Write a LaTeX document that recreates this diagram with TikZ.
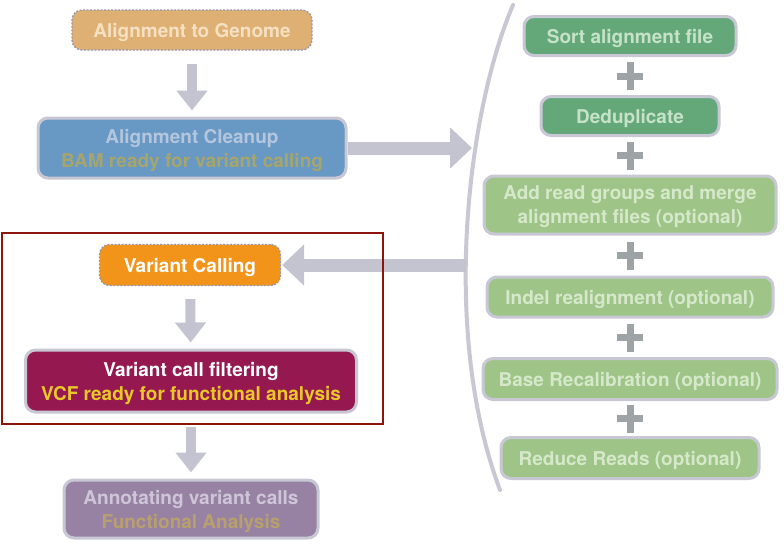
\documentclass[tikz,border=0pt]{standalone}
\usepackage{fontspec}
\setmainfont{TeX Gyre Heros}
\usetikzlibrary{arrows.meta,calc}

\definecolor{boxline}{RGB}{200,200,212}
\definecolor{dashline}{RGB}{150,150,172}
\definecolor{arrowgray}{RGB}{196,196,208}
\definecolor{plusgray}{RGB}{158,163,166}
\definecolor{framered}{RGB}{140,20,10}
\definecolor{genomefill}{RGB}{222,176,116}
\definecolor{genometext}{RGB}{245,224,194}
\definecolor{cleanfill}{RGB}{104,152,196}
\definecolor{cleantext}{RGB}{180,198,222}
\definecolor{cleansub}{RGB}{166,166,108}
\definecolor{callfill}{RGB}{243,148,26}
\definecolor{filtfill}{RGB}{150,24,80}
\definecolor{filtsub}{RGB}{232,200,40}
\definecolor{annotfill}{RGB}{152,130,164}
\definecolor{annottext}{RGB}{206,198,216}
\definecolor{annotsub}{RGB}{184,160,110}
\definecolor{darkgreen}{RGB}{100,168,122}
\definecolor{darkgreentext}{RGB}{198,226,200}
\definecolor{lightgreen}{RGB}{158,196,136}
\definecolor{lightgreentext}{RGB}{214,232,202}

\begin{document}
\begin{tikzpicture}[x=1pt,y=-1pt,
    box/.style={rounded corners=10pt, draw=boxline, line width=3pt, align=center,
      inner sep=0pt, text depth=0pt, font=\fontsize{19}{24}\selectfont\bfseries},
    dashbox/.style={box, draw=dashline, line width=1.3pt, dash pattern=on 2pt off 1.5pt},
    flow/.style={draw=arrowgray, line width=10pt, shorten <=13pt, shorten >=6pt,
      -{Triangle[width=30pt,length=20pt]}},
    flowwide/.style={draw=arrowgray, line width=13pt, -{Triangle[width=40pt,length=22pt]}},
    plus/.style={draw=plusgray, line width=7pt},
    bracket/.style={draw=boxline, line width=4pt, line cap=round},
    redframe/.style={draw=framered, line width=2pt}
  ]
    \useasboundingbox (0,0) rectangle (784,547);

    % Left column
    \node[dashbox, fill=genomefill, text=genometext, minimum width=240, minimum height=40]
      (genome) at (192,30) {Alignment to Genome};
    \node[box, fill=cleanfill, minimum width=308, minimum height=60]
      (cleanup) at (192,148) {\textcolor{cleantext}{Alignment Cleanup}\\\textcolor{cleansub}{BAM ready for variant calling}};
    \node[dashbox, fill=callfill, text=white, minimum width=181, minimum height=41]
      (calling) at (190,265) {Variant Calling};
    \node[box, fill=filtfill, minimum width=331, minimum height=62]
      (filtering) at (191,381) {\textcolor{white}{Variant call filtering}\\\textcolor{filtsub}{VCF ready for functional analysis}};
    \node[box, fill=annotfill, minimum width=254, minimum height=58]
      (annot) at (191,509) {\textcolor{annottext}{Annotating variant calls}\\\textcolor{annotsub}{Functional Analysis}};

    % Right column
    \node[box, fill=darkgreen, text=darkgreentext, minimum width=212, minimum height=39]
      (sort) at (630,36) {Sort alignment file};
    \node[box, fill=darkgreen, text=darkgreentext, minimum width=178, minimum height=39]
      (dedup) at (630,116) {Deduplicate};
    \node[box, fill=lightgreen, text=lightgreentext, minimum width=292, minimum height=58]
      (addrg) at (630,205) {Add read groups and merge\\alignment files (optional)};
    \node[box, fill=lightgreen, text=lightgreentext, minimum width=286, minimum height=40]
      (indel) at (630,297) {Indel realignment (optional)};
    \node[box, fill=lightgreen, text=lightgreentext, minimum width=294, minimum height=41]
      (bqsr) at (630,379) {Base Recalibration (optional)};
    \node[box, fill=lightgreen, text=lightgreentext, minimum width=258, minimum height=41]
      (reduce) at (630,458) {Reduce Reads (optional)};

    % Draw plus signs
    \foreach \a/\b in {sort/dedup, dedup/addrg, addrg/indel, indel/bqsr, bqsr/reduce}
      \draw[plus] ($(\a.south)!0.5!(\b.north)$) +(-13,0) -- +(13,0) +(0,-14) -- +(0,14);

    % Draw bracket
    \draw[bracket] (513,5) .. controls (468,110) and (440,330) .. (500,490);
    \coordinate (inlet) at (472,148);
    \coordinate (outlet) at (466,265);

    % Draw arrows
    \draw[flow] (genome) -- (cleanup);
    \draw[flow] (calling) -- (filtering);
    \draw[flow] (filtering) -- (annot);
    \draw[flowwide] (cleanup.east) -- (inlet);
    \draw[flowwide, shorten >=1pt] (outlet) -- (calling.east);

    % Draw frame
    \draw[redframe] (2,233) rectangle (383,424);
\end{tikzpicture}
\end{document}
